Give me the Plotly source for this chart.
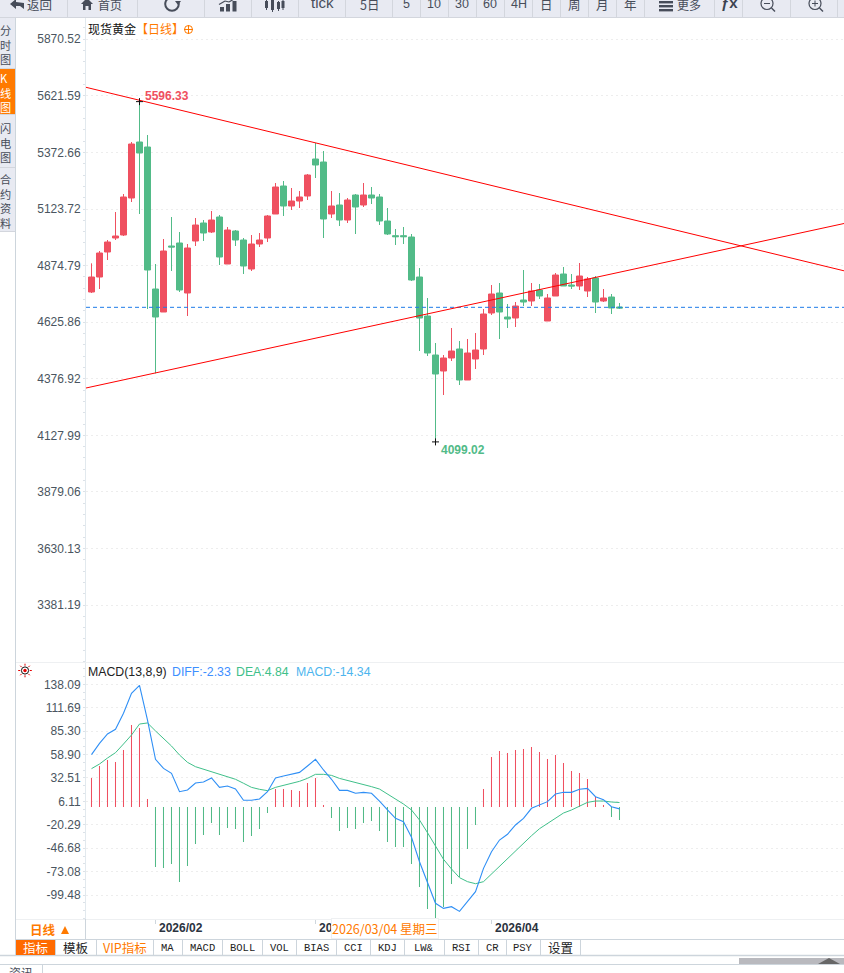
import plotly.graph_objects as go

W = 844
H = 973

# values
day_index = list(range(67))
candle_open = [4758.6, 4824.6, 4934.6, 4996.2, 5009.4, 5172.2, 5418.6, 5396.6, 4771.8, 4670.6, 4961, 4974.2, 4754.2,
               4983, 5062.2, 5022.6, 5088.6, 4881.8, 5027, 4987.4, 4859.8, 4969.8, 4996.2, 5101.8, 5225, 5137, 5159,
               5181, 5343.8, 5330.6, 5101.8, 5141.4, 5075.4, 5185.4, 5141.4, 5185.4, 5176.6, 5071, 5006.4, 5006.4,
               5000.6, 4824.6, 4653, 4481.4, 4411, 4468.2, 4507.8, 4371.4, 4463.8, 4507.8, 4666.2, 4754.2, 4648.6,
               4644.2, 4723.4, 4719, 4767.4, 4631, 4741, 4837.8, 4789.4, 4785, 4763, 4820.2, 4719, 4736.6, 4692.6]
candle_close = [4824.6, 4930.2, 4978.6, 5005, 5176.6, 5409.8, 5370.2, 4855.4, 4648.6, 4939, 4956.6, 4767.4, 4952.2,
                5053.4, 5018.2, 5075.4, 4912.6, 5031.4, 4987.4, 4873, 4969.8, 4987.4, 5093, 5220.6, 5137, 5159, 5176.6,
                5273.4, 5317.4, 5079.8, 5137, 5075.4, 5163.4, 5132.6, 5185.4, 5172.2, 5071, 5013.8, 5002, 5002,
                4811.4, 4644.2, 4490.2, 4397.8, 4468.2, 4499, 4371.4, 4490.2, 4503.4, 4661.8, 4749.8, 4670.6, 4639.8,
                4697, 4714.6, 4763, 4741, 4732.2, 4833.4, 4785, 4785, 4829, 4815.8, 4714.6, 4732.2, 4688.2, 4688.2]
candle_high = [4884.7, 4939, 4987.4, 5110.6, 5189.8, 5418.6, 5596.33, 5449.4, 4881.8, 4991.8, 5088.6, 5022.6, 4969.8,
               5084.2, 5075.4, 5115, 5097.4, 5044.6, 5031.4, 4996.2, 5009.4, 5018.2, 5097.4, 5238.2, 5247, 5216.2, 5203,
               5277.8, 5414.2, 5379, 5203, 5194.2, 5172.2, 5189.8, 5238.2, 5220.6, 5189.8, 5128.2, 5035.8, 5044.6,
               5013.8, 4864.2, 4732.2, 4534.2, 4481.4, 4600.2, 4543, 4551.8, 4578.2, 4683.8, 4789.4, 4798.2, 4705.8,
               4714.6, 4855.4, 4798.2, 4793.8, 4749.8, 4842.2, 4868.6, 4837.8, 4886.2, 4824.6, 4829, 4771.8, 4749.8, 4710.2]
candle_low = [4754.2, 4771.8, 4899.4, 4987.4, 5005, 5154.6, 5101.8, 4683.8, 4400.7, 4670.6, 4851, 4758.6, 4653,
              4961, 4983, 5018.2, 4877.4, 4881.8, 4961, 4837.8, 4851, 4956.6, 4978.6, 5101.8, 5093, 5119.4, 5128.2,
              5163.4, 5260.2, 4996.2, 5084.2, 5049, 5062.2, 5013.8, 5132.6, 5145.8, 5053.4, 5009.4, 4965.4, 4969.8,
              4807, 4499, 4477, 4099.02, 4305.4, 4455, 4349.4, 4371.4, 4419.8, 4481.4, 4657.4, 4551.8, 4600.2,
              4604.6, 4697, 4697, 4727.8, 4631, 4741, 4785, 4771.8, 4767.4, 4736.6, 4666.2, 4714.6, 4661.8, 4683.8]
macd_hist = [32.5, 46, 52.8, 50.5, 64, 92.2, 88.8, 8.8, -67.5, -68.6, -64.1, -84.4, -66.4, -41.6, -31.4, -17.9, -31.4,
             -23.5, -24.7, -39.3, -32.6, -24.7, -6.6, 20, 20, 18.9, 17.8, 26.8, 32.5, 1.5, -12.3, -26.9, -23.5, -24.7,
             -17.9, -15.6, -26.9, -39.3, -45, -45, -64.1, -90, -114.9, -126.1, -112.6, -86.7, -78.8, -47.2, -20.2,
             20, 56.1, 62.9, 60.6, 64, 65.1, 67.4, 61.8, 53.9, 58.4, 49.4, 40.3, 38.1, 31.3, 11, 2, -11.1, -14.34]
macd_diff = [58.8, 71.5, 82.1, 87.3, 105.4, 127.9, 136.9, 97.8, 53.5, 43.3, 37.7, 17, 18.9, 26.8, 27.9, 32.5, 21.9,
             23.4, 20, 7.3, 7.3, 8.8, 17, 32.5, 34.7, 36.6, 38.8, 46, 53.5, 41.5, 31, 18.5, 18.5, 15.2, 16.3, 15.2,
             6.5, -3.6, -13, -16.8, -34.4, -61.9, -84.4, -108.8, -114.5, -112.6, -117.9, -107, -95.7, -69.4, -50.6,
             -37.5, -31, -20.5, -13, -1.7, 2, 5.8, 14.4, 16.3, 16.3, 19.7, 20.8, 11.4, 8, 0.1, -2.33]
macd_dea = [43, 48.2, 55, 61, 70.8, 80.9, 93.3, 94.5, 85.5, 76.8, 68.5, 58.4, 50.1, 45.2, 42.2, 39.2, 36.2, 34, 31,
            26.5, 21.9, 19.7, 18.2, 21.9, 24.2, 26.1, 28.7, 32.1, 36.6, 36.6, 35.4, 32, 29.8, 26.8, 24.6, 22.7, 20,
            14.4, 8.8, 3.1, -3.6, -14.9, -29.2, -45, -59.2, -70.1, -79.9, -84.4, -86.7, -84.4, -75.8, -66.4, -58.1,
            -49.9, -41.2, -32.6, -24.7, -19, -13, -7, -3.6, 0.9, 5, 6.5, 6.5, 5.4, 4.84]

price_ticks = [5870.52, 5621.59, 5372.66, 5123.72, 4874.79, 4625.86, 4376.92, 4127.99, 3879.06, 3630.13, 3381.19]
macd_ticks = [138.09, 111.69, 85.30, 58.90, 32.51, 6.11, -20.29, -46.68, -73.08, -99.48]
month_ticks = [8, 28, 50]
month_labels = ["2026/02", "2026/03", "2026/04"]

x_range = [-0.6875, 94.0625]
trend_x = [-0.6875, 94.0625]
trend_down = [5659.3, 4851.9]
trend_up = [4336.2, 5060.0]
last_price = 4691.2

top_buttons = [(0, 67, "返回"), (68, 137, "首页"), (138, 204, ""), (205, 251, ""), (252, 298, ""), (299, 345, "tick"),
               (346, 392, "5日"), (393, 420, "5"), (421, 448, "10"), (449, 476, "30"), (477, 504, "60"),
               (505, 532, "4H"), (533, 560, "日"), (561, 588, "周"), (589, 616, "月"), (617, 644, "年"),
               (645, 714, "更多"), (715, 742, ""), (743, 790, ""), (791, 837, ""), (838, 844, "")]
side_tabs = [(18, 68, "分时图"), (69, 114, "K线图"), (115, 167, "闪电图"), (168, 231, "合约资料")]
bottom_tabs = [(16, 55, "指标"), (55, 96, "模板"), (96, 153, "VIP指标"), (153, 182, "MA"), (182, 222, "MACD"),
               (222, 262, "BOLL"), (262, 296, "VOL"), (296, 336, "BIAS"), (336, 370, "CCI"), (370, 404, "KDJ"),
               (404, 444, "LW&"), (444, 478, "RSI"), (478, 506, "CR"), (506, 540, "PSY"), (540, 580, "设置")]

UP = "#EF5060"
DOWN = "#52BB88"
ORANGE = "#FF7A00"
CJK = "Noto Sans CJK SC"
LATIN = "Liberation Sans"
TOOL = "#474D5A"
BAR_BG = "#E8EAF2"
EDGE = "#CDD5DC"


def fx(x):
    return x / W


def fy(y):
    return 1 - y / H


shapes = []
annotations = []


def rect(x0, y0, x1, y1, fill=None, line=None, width=1):
    shapes.append(dict(type="rect", xref="paper", yref="paper", x0=fx(x0), x1=fx(x1), y0=fy(y0), y1=fy(y1),
                       fillcolor=fill, line=dict(color=line, width=width if line else 0)))


def seg(x0, y0, x1, y1, color, width=1):
    shapes.append(dict(type="line", xref="paper", yref="paper", x0=fx(x0), x1=fx(x1), y0=fy(y0), y1=fy(y1),
                       line=dict(color=color, width=width)))


def circle(cx, cy, r, fill=None, line=None, width=1):
    shapes.append(dict(type="circle", xref="paper", yref="paper", x0=fx(cx - r), x1=fx(cx + r),
                       y0=fy(cy - r), y1=fy(cy + r), fillcolor=fill, line=dict(color=line, width=width if line else 0)))


def poly(points, fill):
    d = "M" + " L".join(f"{fx(a):.5f},{fy(b):.5f}" for a, b in points) + " Z"
    shapes.append(dict(type="path", xref="paper", yref="paper", path=d, fillcolor=fill, line=dict(width=0)))


def text(x, y, s, size=12, color="#333333", family=CJK, anchor="center", **kw):
    annotations.append(dict(xref="paper", yref="paper", x=fx(x), y=fy(y), text=s, showarrow=False, xanchor=anchor,
                            yanchor="middle", align="left", font=dict(size=size, color=color, family=family),
                            borderpad=0, **kw))


fig = go.Figure()
fig.add_trace(go.Candlestick(x=day_index, open=candle_open, high=candle_high, low=candle_low, close=candle_close,
                             whiskerwidth=0, xaxis="x", yaxis="y",
                             increasing=dict(line=dict(color=UP, width=1), fillcolor=UP),
                             decreasing=dict(line=dict(color=DOWN, width=1), fillcolor=DOWN)))
fig.add_trace(go.Scatter(x=trend_x, y=[last_price, last_price], mode="lines", xaxis="x", yaxis="y",
                         line=dict(color="#1E7BE8", width=1, dash="4px,3px")))
fig.add_trace(go.Scatter(x=trend_x, y=trend_down, mode="lines", xaxis="x", yaxis="y",
                         line=dict(color="#FF0000", width=1)))
fig.add_trace(go.Scatter(x=trend_x, y=trend_up, mode="lines", xaxis="x", yaxis="y",
                         line=dict(color="#FF0000", width=1)))

high_day = candle_high.index(max(candle_high))
low_day = candle_low.index(min(candle_low))
fig.add_trace(go.Scatter(x=[high_day, low_day], y=[candle_high[high_day], candle_low[low_day]], mode="markers",
                         xaxis="x", yaxis="y",
                         marker=dict(symbol="cross-thin", size=5, line=dict(color="#111111", width=1))))

hist_colors = [UP if v > 0 else DOWN for v in macd_hist]
fig.add_trace(go.Bar(x=day_index, y=macd_hist, width=0.125, xaxis="x2", yaxis="y2",
                     marker=dict(color=hist_colors, line=dict(width=0.02, color=hist_colors))))
fig.add_trace(go.Scatter(x=day_index, y=macd_dea, mode="lines", xaxis="x2", yaxis="y2",
                         line=dict(color="#40C08A", width=1)))
fig.add_trace(go.Scatter(x=day_index, y=macd_diff, mode="lines", xaxis="x2", yaxis="y2",
                         line=dict(color="#2F8FF5", width=1.1)))

# toolbar along the top
rect(0, 0, W, 17, fill=BAR_BG)
seg(0, 17.5, W, 17.5, "#D3D6DD", 1)
for x0, x1, label in top_buttons:
    seg(x1 + 0.5, 0, x1 + 0.5, 17, "#D3D6DD", 1)
    if label in ("返回", "首页", "更多"):
        continue
    if label:
        text((x0 + x1) / 2, 3 if label == "tick" else 4, label, size=15 if label == "tick" else 12.5, color=TOOL,
             family=LATIN if label in ("tick", "5", "10", "30", "60", "4H") else CJK)
text(39.5, 4, "返回", size=12.5, color=TOOL)
poly([(10, 4), (16, -1), (16, 2), (24, 3), (24, 9), (20, 6), (16, 6), (16, 9)], TOOL)
text(110, 4, "首页", size=12, color=TOOL)
poly([(81, 4), (87, -2), (93, 4), (91, 4), (91, 10), (88.5, 10), (88.5, 6), (85.5, 6), (85.5, 10), (83, 10), (83, 4)], TOOL)
circle(172, 4, 6.8, line=TOOL, width=2)
rect(173, -1, 180, 2.5, fill=BAR_BG)
poly([(175, 1), (181, 1), (178, 5)], TOOL)
for bx, top in [(220, 7), (226, 4), (232.5, 1)]:
    rect(bx, top, bx + 4, 11.5, fill=TOOL)
seg(219, 4.5, 225, 1, TOOL, 1.2)
seg(225, 1, 229, 2, TOOL, 1.2)
seg(229, 2, 234, -1, TOOL, 1.2)
for bx, top, bot in [(265, 1, 8), (271, 0, 10), (277, 2, 9), (281.5, 1, 8)]:
    seg(bx + 1.5, max(top - 1, 0), bx + 1.5, bot + 2, TOOL, 1)
    rect(bx, top, bx + 3, bot, fill=TOOL)
for hy in (1, 5, 9):
    rect(659, hy, 673, hy + 2.4, fill=TOOL)
text(689, 4, "更多", size=12, color=TOOL)
text(729, 3, "<b>ƒx</b>", size=15, color="#3C4350", family=LATIN)
for mx, plus in [(767, False), (815, True)]:
    circle(mx, 3.5, 6, line=TOOL, width=1.2)
    seg(mx + 4.5, 8, mx + 8, 11.5, TOOL, 1.4)
    seg(mx - 3, 3.5, mx + 3, 3.5, TOOL, 1)
    if plus:
        seg(mx, 0.5, mx, 6.5, TOOL, 1)

# tabs down the left
rect(0, 18, 15.5, 231, fill=BAR_BG)
for y0, y1, label in side_tabs:
    active = label == "K线图"
    if active:
        rect(0, y0, 15.5, y1, fill=ORANGE)
    seg(0, y1 + 0.5, 15.5, y1 + 0.5, "#D3D6DD", 1)
    text(5.5, (y0 + y1) / 2 + 1.5, "<br>".join(label), size=11.2, color="white" if active else TOOL)
seg(15.5, 18, 15.5, 955, EDGE, 1)

# frame of the chart area
seg(16, 662.5, W, 662.5, "#EEF0F2", 1)
seg(16, 919.5, W, 919.5, "#EEF0F2", 1)
seg(16, 939.5, W, 939.5, EDGE, 1)
seg(85.5, 919, 85.5, 939, EDGE, 1)
seg(0, 955.5, W, 955.5, EDGE, 1.6)
seg(0, 964.5, W, 964.5, EDGE, 1)
seg(42.5, 964, 42.5, H, EDGE, 1)
rect(739, 958, W, 964, fill="#B9B9BE")
poly([(818, 964), (829, 958), (840, 964)], "#666666")
text(21, 972, "资讯", size=12, color=TOOL)

# bottom tabs
for x0, x1, label in bottom_tabs:
    if label == "指标":
        rect(x0, 940, x1, 955, fill="#FF6A00")
    seg(x1 + 0.5, 940, x1 + 0.5, 955, EDGE, 1)
    color = "white" if label == "指标" else ORANGE if label == "VIP指标" else "#222222"
    latin = label in ("MA", "MACD", "BOLL", "VOL", "BIAS", "CCI", "KDJ", "LW&", "RSI", "CR", "PSY")
    text((x0 + x1) / 2, 947.5, label, size=10.5 if latin else 12.5, color=color,
         family="Liberation Mono" if latin else CJK)
text(43, 929.5, "<b>日线</b>", size=12.5, color=ORANGE)
poly([(61, 934), (65, 926), (69, 934)], ORANGE)

# chart headers
text(87, 28, '现货黄金<span style="color:#FF7A00">【日线】</span>', size=12, color="#111111", anchor="left")
circle(188.5, 29.5, 4, line=ORANGE, width=1)
seg(184, 29.5, 193, 29.5, ORANGE, 1)
seg(188.5, 25, 188.5, 34, ORANGE, 1)

text(87, 672, "MACD(13,8,9)", size=12.3, color="#222222", family=LATIN, anchor="left")
text(170.7, 672, f"DIFF:{macd_diff[-1]:.2f}", size=12.3, color="#3D8FFF", family=LATIN, anchor="left")
text(235, 672, f"DEA:{macd_dea[-1]:.2f}", size=12.3, color="#40C08A", family=LATIN, anchor="left")
text(294.5, 672, f"MACD:{macd_hist[-1]:.2f}", size=12.3, color="#4DB5EE", family=LATIN, anchor="left")

# the small sun icon of the indicator pane
circle(25, 670.5, 3.6, line="#111111", width=1)
circle(25, 670.5, 1.7, fill="#E60000")
for dx, dy in [(1, 0), (0, 1), (-1, 0), (0, -1), (0.7, 0.7), (-0.7, 0.7), (0.7, -0.7), (-0.7, -0.7)]:
    seg(25 + dx * 4.8, 670.5 + dy * 4.8, 25 + dx * 6.8, 670.5 + dy * 6.8, "#E60000", 1)

# extreme prices
annotations.append(dict(x=high_day, y=candle_high[high_day], xref="x", yref="y", text=str(candle_high[high_day]),
                        showarrow=False, xanchor="left", yanchor="middle", xshift=3, yshift=6,
                        font=dict(size=12, color=UP, family=LATIN, weight="bold")))
annotations.append(dict(x=low_day, y=candle_low[low_day], xref="x", yref="y", text=f"{candle_low[low_day]:.2f}",
                        showarrow=False, xanchor="left", yanchor="middle", xshift=3, yshift=-8,
                        font=dict(size=12, color=DOWN, family=LATIN, weight="bold")))

# month labels and the crosshair date that covers one of them
for tick, label in zip(month_ticks, month_labels):
    annotations.append(dict(x=tick, y=fy(927.5), xref="x2", yref="paper", text=label, showarrow=False,
                            xanchor="left", yanchor="middle", xshift=1,
                            font=dict(size=12, color="#2B3340", family=LATIN, weight="bold")))
text(384.5, 928.5, "2026/03/04 星期三", size=12.5, color=ORANGE, bgcolor="white", bordercolor="#EEF0F2", borderwidth=1)

axis_common = dict(showline=True, linecolor="#E2E9EE", linewidth=1, tickmode="array", ticks="outside", ticklen=2,
                   tickcolor="#DCE2E8", tickfont=dict(family=LATIN, size=12, color="#4A5560"),
                   showgrid=True, gridcolor="#EDEDED", griddash="2px,3px", gridwidth=1, zeroline=False,
                   fixedrange=True)

fig.update_layout(
    width=W, height=H, margin=dict(l=0, r=0, t=0, b=0), paper_bgcolor="white", plot_bgcolor="white",
    showlegend=False, hovermode=False, boxgap=0.25, boxgroupgap=0, bargap=0,
    dragmode=False, shapes=shapes, annotations=annotations,
    xaxis=dict(domain=[fx(86), 1], range=x_range, anchor="y", showticklabels=False, ticks="", showgrid=False,
               showline=False, zeroline=False, rangeslider=dict(visible=False), fixedrange=True),
    xaxis2=dict(domain=[fx(86), 1], range=x_range, anchor="y2", showticklabels=False, tickmode="array",
                tickvals=month_ticks, ticks="outside", ticklen=4, tickcolor="#CFD6DC", showgrid=False,
                showline=False, zeroline=False, fixedrange=True),
    yaxis=dict(domain=[fy(662), fy(18)], range=[3130.6, 5964.2], anchor="x", tickvals=price_ticks,
               ticktext=[f"{v:.2f}" for v in price_ticks],
               minor=dict(tick0=5870.52, dtick=49.786, ticks="outside", ticklen=2, tickcolor="#DCE2E8", showgrid=False),
               **axis_common),
    yaxis2=dict(domain=[fy(919), fy(663)], range=[-126.5, 162.1], anchor="x2", tickvals=macd_ticks,
                ticktext=[f"{v:.2f}" for v in macd_ticks],
                minor=dict(tick0=6.11, dtick=8.8, ticks="outside", ticklen=2, tickcolor="#DCE2E8", showgrid=False),
                **axis_common),
)

fig.write_html("out.html", config={"displayModeBar": False},
               post_script="document.body.style.margin='0';document.documentElement.style.overflow='hidden';")
